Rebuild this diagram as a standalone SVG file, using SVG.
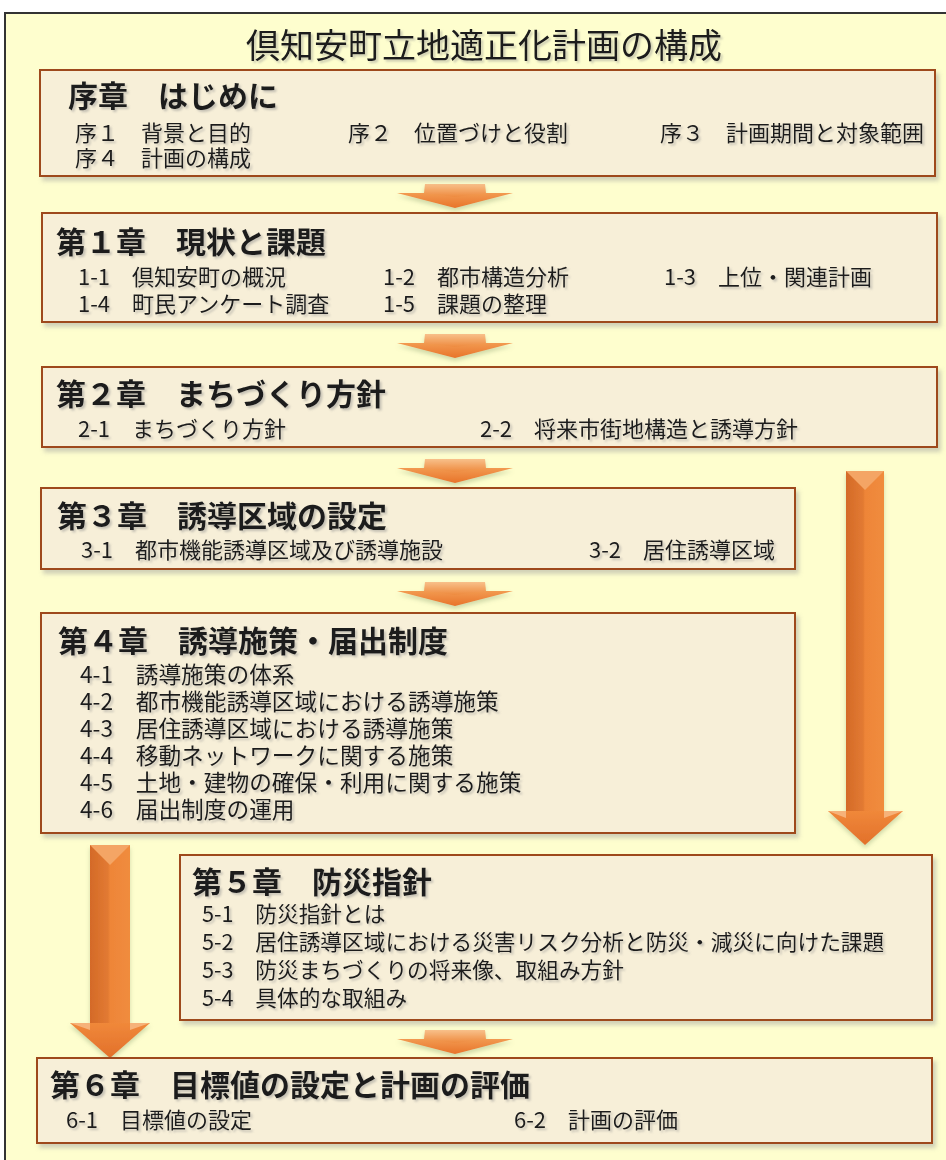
<svg xmlns="http://www.w3.org/2000/svg" width="946" height="1160" viewBox="0 0 946 1160">
<defs>
<style>
text{font-family:"Noto Sans CJK JP","Noto Sans",sans-serif;fill:#1a1a1a}
.ttl{font-size:34px}
.ch{font-size:30px;font-weight:bold}
.it{font-size:22px}
.it4{font-size:22.7px}
.it5{font-size:21.7px}
.box{fill:#F7EFD8;stroke:#9E4A1C;stroke-width:2}
</style>
<filter id="bs" x="-5%" y="-5%" width="110%" height="120%">
<feDropShadow dx="3" dy="4" stdDeviation="2" flood-color="#9a9a9a" flood-opacity="0.45"/>
</filter>
<filter id="ts" x="-5%" y="-20%" width="110%" height="150%">
<feDropShadow dx="2" dy="2" stdDeviation="1" flood-color="#8a8a8a" flood-opacity="0.45"/>
</filter>
<filter id="as" x="-20%" y="-20%" width="140%" height="160%">
<feDropShadow dx="0" dy="3" stdDeviation="2" flood-color="#8aa070" flood-opacity="0.4"/>
</filter>
<linearGradient id="chevTop" x1="0" y1="0" x2="0" y2="1">
<stop offset="0" stop-color="#F8C08A"/>
<stop offset="1" stop-color="#EE8A3E"/>
</linearGradient>
<linearGradient id="chevTri" x1="0" y1="0" x2="0" y2="1">
<stop offset="0" stop-color="#F29A50"/>
<stop offset="1" stop-color="#E8732A"/>
</linearGradient>
<linearGradient id="shaft" x1="0" y1="0" x2="1" y2="0">
<stop offset="0" stop-color="#D46A28"/>
<stop offset="0.45" stop-color="#E27A32"/>
<stop offset="0.5" stop-color="#EE8538"/>
<stop offset="1" stop-color="#F08C3E"/>
</linearGradient>
<linearGradient id="head" x1="0" y1="0" x2="0" y2="1">
<stop offset="0" stop-color="#F0883A"/>
<stop offset="1" stop-color="#E2702A"/>
</linearGradient>
<g id="chev">
<polygon points="-58,9 58,9 0,24" fill="url(#chevTri)"/>
<polygon points="-30,0 30,0 31,9 0,13 -31,9" fill="url(#chevTop)"/>
</g>
</defs>

<rect x="5" y="13" width="960" height="1170" fill="#FEFECE" stroke="#333" stroke-width="2"/>

<g id="title">
<text class="ttl" x="484" y="58" text-anchor="middle" filter="url(#ts)">倶知安町立地適正化計画の構成</text>
</g>

<g id="connectors">
<use href="#chev" x="455" y="184" filter="url(#as)"/>
<use href="#chev" x="455" y="334" filter="url(#as)"/>
<use href="#chev" x="455" y="459" filter="url(#as)"/>
<use href="#chev" x="455" y="582" filter="url(#as)"/>
<use href="#chev" x="455" y="1030" filter="url(#as)"/>
<g id="arrow-right" filter="url(#as)">
<rect x="846" y="471" width="38" height="342" fill="url(#shaft)"/>
<polygon points="846,471 884,471 865,490" fill="#F4A565"/>
<polygon points="828,811 903,811 865,845" fill="url(#head)"/>
<polygon points="828,811 846,811 846,818" fill="#F6B27A"/>
<polygon points="903,811 884,811 884,818" fill="#F6B27A"/>
</g>
<g id="arrow-left" filter="url(#as)">
<rect x="90" y="845" width="40" height="180" fill="url(#shaft)"/>
<polygon points="90,845 130,845 110,865" fill="#F4A565"/>
<polygon points="70,1023 150,1023 110,1058" fill="url(#head)"/>
<polygon points="70,1023 90,1023 90,1030" fill="#F6B27A"/>
<polygon points="150,1023 130,1023 130,1030" fill="#F6B27A"/>
</g>
</g>

<g id="ch0">
<rect class="box" x="40" y="70" width="895" height="106" filter="url(#bs)"/>
<g filter="url(#ts)">
<text class="ch" x="68" y="107">序章　はじめに</text>
<text class="it" x="75" y="141">序１　背景と目的</text>
<text class="it" x="348" y="141">序２　位置づけと役割</text>
<text class="it" x="660" y="141">序３　計画期間と対象範囲</text>
<text class="it" x="75" y="166">序４　計画の構成</text>
</g>
</g>

<g id="ch1">
<rect class="box" x="42" y="213" width="895" height="109" filter="url(#bs)"/>
<g filter="url(#ts)">
<text class="ch" x="56" y="253">第１章　現状と課題</text>
<text class="it" x="78" y="285">1-1　倶知安町の概況</text>
<text class="it" x="383" y="285">1-2　都市構造分析</text>
<text class="it" x="664" y="285">1-3　上位・関連計画</text>
<text class="it" x="78" y="312">1-4　町民アンケート調査</text>
<text class="it" x="383" y="312">1-5　課題の整理</text>
</g>
</g>

<g id="ch2">
<rect class="box" x="42" y="367" width="895" height="80" filter="url(#bs)"/>
<g filter="url(#ts)">
<text class="ch" x="56" y="405">第２章　まちづくり方針</text>
<text class="it" x="78" y="437">2-1　まちづくり方針</text>
<text class="it" x="480" y="437">2-2　将来市街地構造と誘導方針</text>
</g>
</g>

<g id="ch3">
<rect class="box" x="41" y="488" width="754" height="81" filter="url(#bs)"/>
<g filter="url(#ts)">
<text class="ch" x="57" y="527">第３章　誘導区域の設定</text>
<text class="it" x="81" y="558">3-1　都市機能誘導区域及び誘導施設</text>
<text class="it" x="589" y="558">3-2　居住誘導区域</text>
</g>
</g>

<g id="ch4">
<rect class="box" x="41" y="613" width="754" height="220" filter="url(#bs)"/>
<g filter="url(#ts)">
<text class="ch" x="58" y="652">第４章　誘導施策・届出制度</text>
<text class="it4" x="80" y="683">4-1　誘導施策の体系</text>
<text class="it4" x="80" y="710">4-2　都市機能誘導区域における誘導施策</text>
<text class="it4" x="80" y="737">4-3　居住誘導区域における誘導施策</text>
<text class="it4" x="80" y="764">4-4　移動ネットワークに関する施策</text>
<text class="it4" x="80" y="791">4-5　土地・建物の確保・利用に関する施策</text>
<text class="it4" x="80" y="818">4-6　届出制度の運用</text>
</g>
</g>

<g id="ch5">
<rect class="box" x="180" y="855" width="752" height="165" filter="url(#bs)"/>
<g filter="url(#ts)">
<text class="ch" x="192" y="893">第５章　防災指針</text>
<text class="it5" x="202" y="922">5-1　防災指針とは</text>
<text class="it5" x="202" y="950">5-2　居住誘導区域における災害リスク分析と防災・減災に向けた課題</text>
<text class="it5" x="202" y="978">5-3　防災まちづくりの将来像、取組み方針</text>
<text class="it5" x="202" y="1006">5-4　具体的な取組み</text>
</g>
</g>

<g id="ch6">
<rect class="box" x="37" y="1058" width="895" height="85" filter="url(#bs)"/>
<g filter="url(#ts)">
<text class="ch" x="50" y="1096">第６章　目標値の設定と計画の評価</text>
<text class="it" x="66" y="1128">6-1　目標値の設定</text>
<text class="it" x="514" y="1128">6-2　計画の評価</text>
</g>
</g>
</svg>
